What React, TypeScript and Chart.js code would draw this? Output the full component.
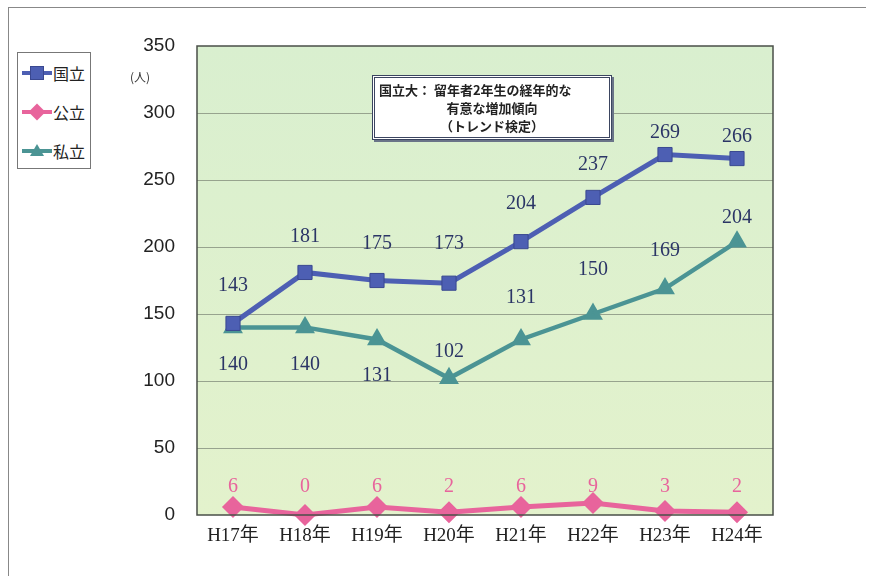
import React, { useEffect, useRef } from "react";
import { Chart, registerables } from "chart.js";

Chart.register(...registerables);

const categories = ["H17年", "H18年", "H19年", "H20年", "H21年", "H22年", "H23年", "H24年"];
const kokuritsu = [143, 181, 175, 173, 204, 237, 269, 266];
const kouritsu = [6, 0, 6, 2, 6, 9, 3, 2];
const shiritsu = [140, 140, 131, 102, 131, 150, 169, 204];
const seriesNames = ["国立", "公立", "私立"];
const yTicks = [0, 50, 100, 150, 200, 250, 300, 350];

const COL_K = "#4d5fb3";
const COL_KO = "#e8649c";
const COL_S = "#4b9494";
const LABEL_DARK = "#2b3566";

// label vertical offsets (styling)
const offK = [-38, -36, -37, -39, -38, -33, -22, -22];
const offS = [37, 37, 36, -27, -42, -44, -38, -24];

const bgPlugin = {
  id: "bgPlugin",
  beforeDraw(chart: any) {
    const { ctx, chartArea: a } = chart;
    ctx.save();
    const g = ctx.createLinearGradient(0, a.top, 0, a.bottom);
    g.addColorStop(0, "#d9efcf");
    g.addColorStop(1, "#e3f2cc");
    ctx.fillStyle = g;
    ctx.fillRect(a.left, a.top, a.right - a.left, a.bottom - a.top);
    ctx.restore();
  },
  afterDraw(chart: any) {
    const { ctx, chartArea: a } = chart;
    ctx.save();
    ctx.strokeStyle = "#4a4f48";
    ctx.lineWidth = 1.5;
    ctx.strokeRect(a.left, a.top, a.right - a.left, a.bottom - a.top);
    ctx.restore();
  },
};

const labelPlugin = {
  id: "labelPlugin",
  afterDatasetsDraw(chart: any) {
    const { ctx } = chart;
    const yScale = chart.scales.y;
    ctx.save();
    ctx.font = "20px 'Liberation Serif', 'DejaVu Serif', serif";
    ctx.textAlign = "center";
    ctx.textBaseline = "middle";
    chart.data.datasets.forEach((ds: any, di: number) => {
      const meta = chart.getDatasetMeta(di);
      meta.data.forEach((pt: any, i: number) => {
        const v = ds.data[i];
        let y: number;
        if (di === 0) {
          ctx.fillStyle = LABEL_DARK;
          y = pt.y + offK[i];
        } else if (di === 1) {
          ctx.fillStyle = COL_KO;
          y = yScale.getPixelForValue(0) - 28;
        } else {
          ctx.fillStyle = LABEL_DARK;
          y = pt.y + offS[i];
        }
        ctx.fillText(String(v), pt.x, y);
      });
    });
    ctx.restore();
  },
};

function Legend() {
  const items = [
    { name: seriesNames[0], color: COL_K, shape: "square" },
    { name: seriesNames[1], color: COL_KO, shape: "diamond" },
    { name: seriesNames[2], color: COL_S, shape: "triangle" },
  ];
  return (
    <div
      style={{
        position: "absolute",
        left: 17,
        top: 52,
        width: 74,
        height: 117,
        border: "1px solid #777",
        background: "#fff",
        boxSizing: "border-box",
      }}
    >
      {items.map((it, i) => (
        <div
          key={it.name}
          style={{
            position: "absolute",
            left: 4,
            top: 8 + i * 39,
            height: 24,
            display: "flex",
            alignItems: "center",
          }}
        >
          <div style={{ position: "relative", width: 30, height: 24 }}>
            <div
              style={{
                position: "absolute",
                left: 0,
                top: 10,
                width: 30,
                height: 4,
                background: it.color,
              }}
            />
            {it.shape === "square" && (
              <div
                style={{
                  position: "absolute",
                  left: 8,
                  top: 5,
                  width: 14,
                  height: 14,
                  background: it.color,
                  border: "1px solid #3a4890",
                  boxSizing: "border-box",
                }}
              />
            )}
            {it.shape === "diamond" && (
              <div
                style={{
                  position: "absolute",
                  left: 9,
                  top: 6,
                  width: 12,
                  height: 12,
                  background: it.color,
                  transform: "rotate(45deg)",
                }}
              />
            )}
            {it.shape === "triangle" && (
              <div
                style={{
                  position: "absolute",
                  left: 8,
                  top: 5,
                  width: 0,
                  height: 0,
                  borderLeft: "7px solid transparent",
                  borderRight: "7px solid transparent",
                  borderBottom: `12px solid ${it.color}`,
                }}
              />
            )}
          </div>
          <span
            style={{
              fontFamily: "'Noto Sans CJK JP', sans-serif",
              fontSize: 16,
              color: "#222",
              marginLeft: 1,
              lineHeight: "24px",
            }}
          >
            {it.name}
          </span>
        </div>
      ))}
    </div>
  );
}

export default function App() {
  const ref = useRef<HTMLCanvasElement | null>(null);

  useEffect(() => {
    document.body.style.margin = "0";
    const canvas = ref.current;
    if (!canvas) return;
    const chart = new Chart(canvas, {
      type: "line",
      data: {
        labels: categories,
        datasets: [
          {
            label: seriesNames[0],
            data: kokuritsu,
            borderColor: COL_K,
            backgroundColor: COL_K,
            pointBackgroundColor: COL_K,
            pointBorderColor: "#3a4890",
            pointBorderWidth: 1,
            borderWidth: 5,
            pointStyle: "rect",
            pointRadius: 10,
            tension: 0,
          },
          {
            label: seriesNames[1],
            data: kouritsu,
            borderColor: COL_KO,
            backgroundColor: COL_KO,
            pointBackgroundColor: COL_KO,
            pointBorderColor: COL_KO,
            borderWidth: 5,
            pointStyle: "rectRot",
            pointRadius: 7.5,
            tension: 0,
          },
          {
            label: seriesNames[2],
            data: shiritsu,
            borderColor: COL_S,
            backgroundColor: COL_S,
            pointBackgroundColor: COL_S,
            pointBorderColor: COL_S,
            borderWidth: 4.5,
            pointStyle: "triangle",
            pointRadius: 7,
            tension: 0,
          },
        ],
      },
      options: {
        animation: false,
        responsive: false,
        maintainAspectRatio: false,
        clip: false as any,
        layout: { padding: { top: 46, right: 96, left: 0, bottom: 0 } },
        plugins: {
          legend: { display: false },
          tooltip: { enabled: false },
        },
        scales: {
          x: {
            offset: true,
            grid: { display: false, drawTicks: false },
            border: { display: false },
            ticks: {
              color: "#222",
              padding: 10,
              font: { family: "'Liberation Serif', 'Noto Sans CJK JP', serif", size: 19 },
            },
            afterFit(scale: any) {
              scale.height = 61;
            },
          },
          y: {
            min: 0,
            max: 350,
            afterBuildTicks(scale: any) {
              scale.ticks = yTicks.map((v) => ({ value: v }));
            },
            grid: {
              color: (c: any) => (c.tick && (c.tick.value === 0 || c.tick.value === 350) ? "rgba(0,0,0,0)" : "#97a38e"),
              lineWidth: 1,
              drawTicks: false,
            },
            border: { display: false },
            ticks: {
              color: "#222",
              padding: 22,
              font: { family: "'Liberation Sans', Arial, sans-serif", size: 19 },
            },
            afterFit(scale: any) {
              scale.width = 197;
            },
          },
        },
      },
      plugins: [bgPlugin, labelPlugin],
    });
    return () => chart.destroy();
  }, []);

  return (
    <div
      style={{
        position: "absolute",
        left: 0,
        top: 0,
        width: 869,
        height: 576,
        background: "#fff",
        overflow: "hidden",
      }}
    >
      <div
        style={{
          position: "absolute",
          left: 8,
          top: 7,
          width: 857,
          height: 600,
          borderTop: "1px solid #888",
          borderLeft: "1px solid #888",
        }}
      />
      <canvas ref={ref} width={869} height={576} style={{ position: "absolute", left: 0, top: 0 }} />
      <Legend />
      <div
        style={{
          position: "absolute",
          left: 130,
          top: 68,
          fontFamily: "'Noto Sans CJK JP', sans-serif",
          fontSize: 12,
          color: "#333",
        }}
      >
        (人)
      </div>
      <div
        style={{
          position: "absolute",
          left: 372,
          top: 75,
          width: 240,
          height: 65,
          background: "#fff",
          border: "3px double #3b4560",
          boxShadow: "2px 2px 0 #6a7488",
          boxSizing: "border-box",
          fontFamily: "'Noto Sans CJK JP', sans-serif",
          fontWeight: 700,
          fontSize: 13,
          lineHeight: "18px",
          color: "#222",
          textAlign: "center",
          paddingTop: 3,
        }}
      >
        <div style={{ textAlign: "left", paddingLeft: 4 }}>国立大：&nbsp;留年者2年生の経年的な</div>
        <div>有意な増加傾向</div>
        <div>（トレンド検定）</div>
      </div>
    </div>
  );
}
